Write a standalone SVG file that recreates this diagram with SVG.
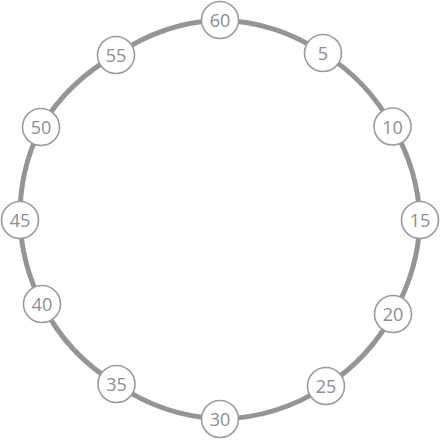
<svg xmlns="http://www.w3.org/2000/svg" width="440" height="440" viewBox="0 0 440 440">
<style>
.ring{fill:none;stroke:#939598;stroke-width:5}
.node circle{fill:#ffffff;stroke:#9a9c9e;stroke-width:1.6}
.node text{font-family:"Open Sans","Noto Sans",sans-serif;font-size:18px;fill:#8c8e90;text-anchor:middle;dominant-baseline:central}
</style>
<rect width="440" height="440" fill="#ffffff"/>
<g id="connectors">
<path class="ring" d="M220,20 A198,198 0 0 1 323,53 A198,198 0 0 1 392.5,126.5 A198,198 0 0 1 420,220 A198,198 0 0 1 393,314 A198,198 0 0 1 326,386 A198,198 0 0 1 220,419 A198,198 0 0 1 116.5,384 A198,198 0 0 1 42,304 A198,198 0 0 1 20,220 A198,198 0 0 1 41,127 A198,198 0 0 1 116,55 A198,198 0 0 1 220,20 Z"/>
</g>
<g id="n60" class="node"><circle cx="220" cy="20" r="18.5"/><text x="220" y="20">60</text></g>
<g id="n5" class="node"><circle cx="323" cy="53" r="18.5"/><text x="323" y="53">5</text></g>
<g id="n10" class="node"><circle cx="392.5" cy="126.5" r="18.5"/><text x="392.5" y="126.5">10</text></g>
<g id="n15" class="node"><circle cx="420" cy="220" r="18.5"/><text x="420" y="220">15</text></g>
<g id="n20" class="node"><circle cx="393" cy="314" r="18.5"/><text x="393" y="314">20</text></g>
<g id="n25" class="node"><circle cx="326" cy="386" r="18.5"/><text x="326" y="386">25</text></g>
<g id="n30" class="node"><circle cx="220" cy="419" r="18.5"/><text x="220" y="419">30</text></g>
<g id="n35" class="node"><circle cx="116.5" cy="384" r="18.5"/><text x="116.5" y="384">35</text></g>
<g id="n40" class="node"><circle cx="42" cy="304" r="18.5"/><text x="42" y="304">40</text></g>
<g id="n45" class="node"><circle cx="20" cy="220" r="18.5"/><text x="20" y="220">45</text></g>
<g id="n50" class="node"><circle cx="41" cy="127" r="18.5"/><text x="41" y="127">50</text></g>
<g id="n55" class="node"><circle cx="116" cy="55" r="18.5"/><text x="116" y="55">55</text></g>
</svg>
